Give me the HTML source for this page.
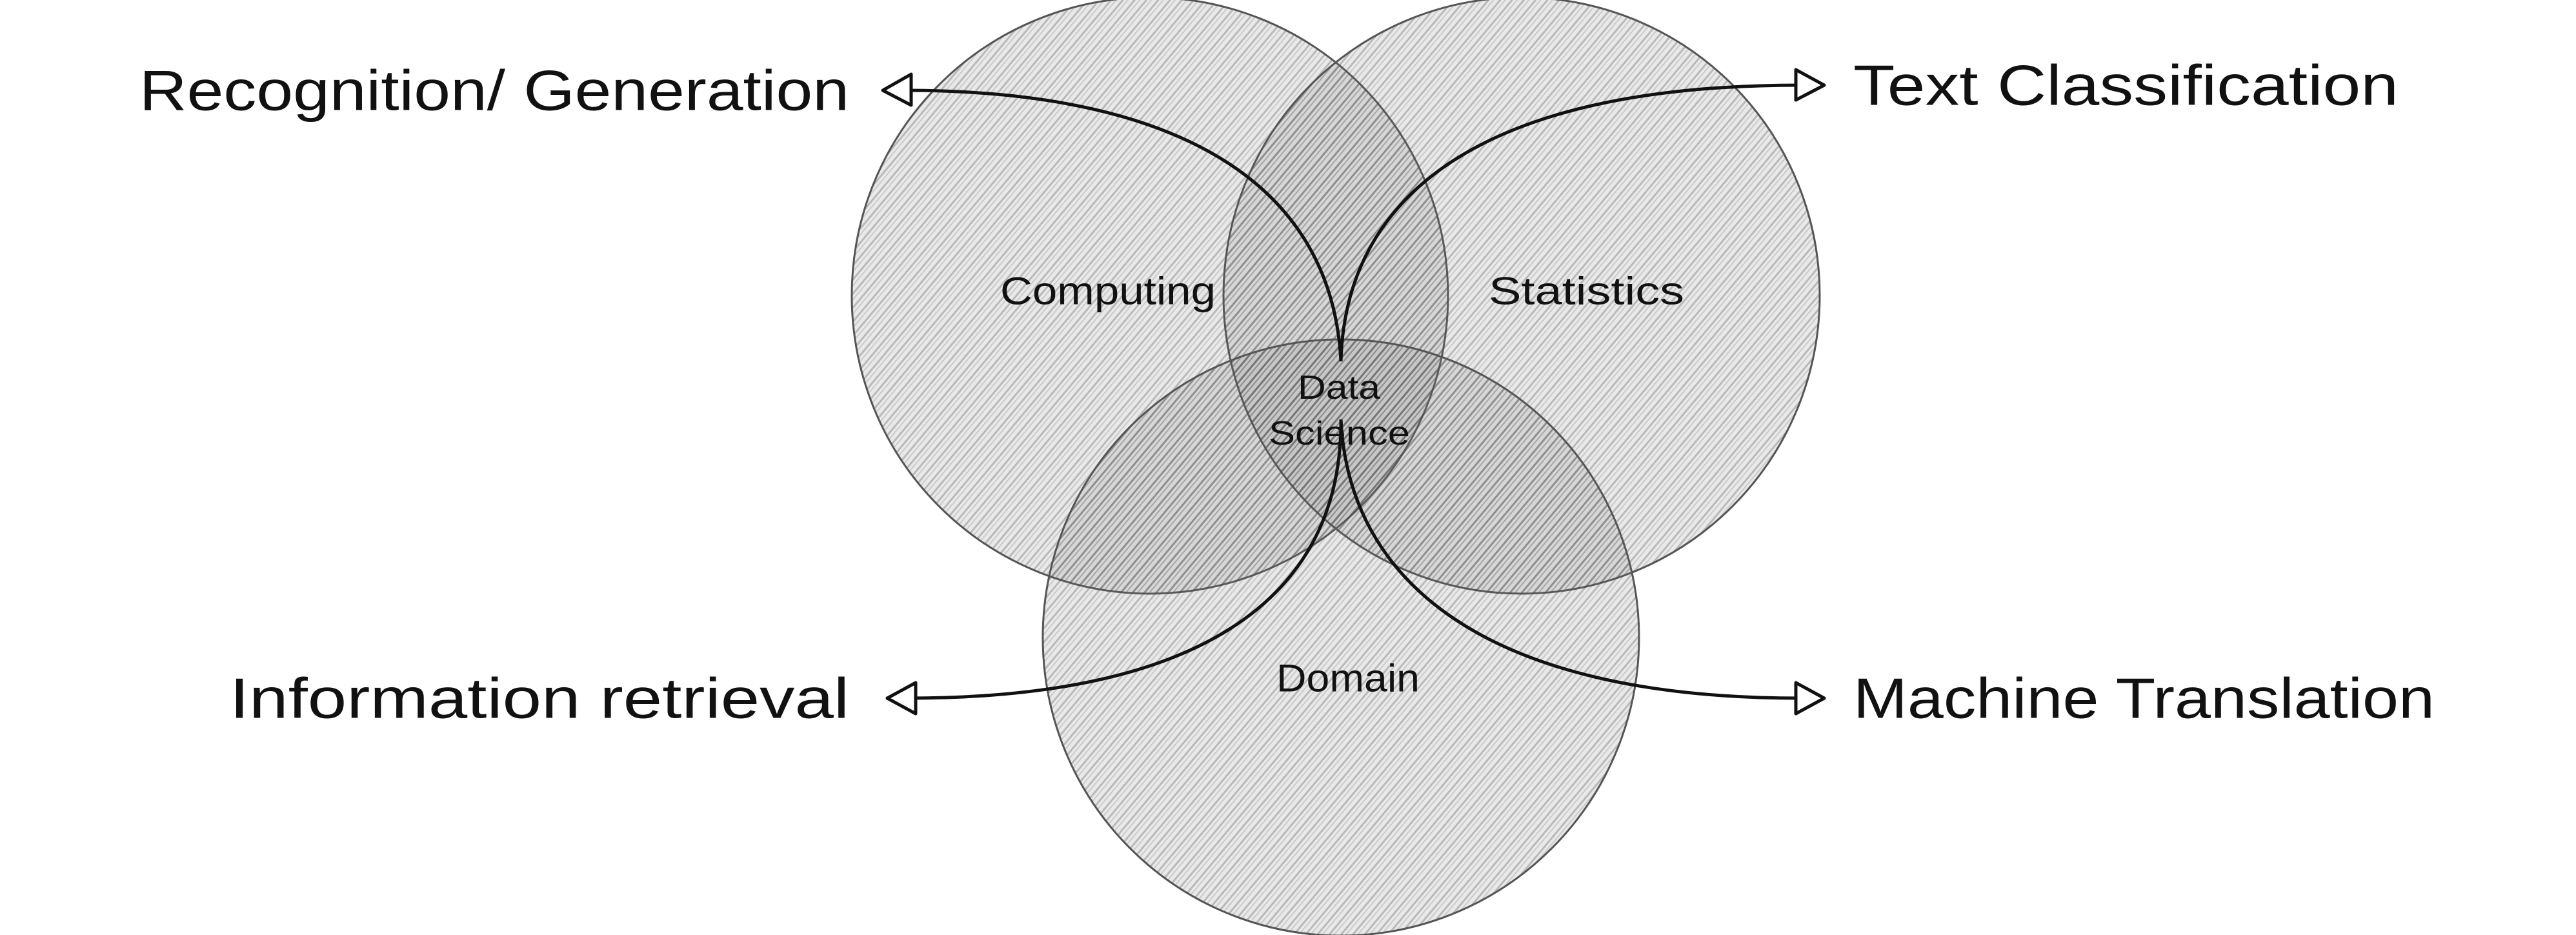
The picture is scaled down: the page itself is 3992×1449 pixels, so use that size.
<!DOCTYPE html>
<html><head><meta charset="utf-8"><style>
html,body{margin:0;padding:0;background:#fff;}
svg{display:block;}
text{font-family:"Liberation Sans",sans-serif;fill:#111;}
</style></head><body>
<svg width="3992" height="1449" viewBox="0 0 3992 1449" xmlns="http://www.w3.org/2000/svg">
<defs>
<pattern id="h" width="14" height="14" patternUnits="userSpaceOnUse" patternTransform="rotate(-50)">
<rect width="14" height="14" fill="rgba(120,120,120,0.16)"/>
<line x1="0" y1="3" x2="14" y2="3" stroke="rgba(60,60,60,0.28)" stroke-width="3"/>
<line x1="0" y1="9" x2="14" y2="9" stroke="rgba(60,60,60,0.18)" stroke-width="2"/>
</pattern>
</defs>
<g stroke="#555" stroke-width="3" fill="url(#h)">
<circle cx="1782" cy="458" r="462"/>
<circle cx="2358" cy="458" r="462"/>
<circle cx="2078" cy="988" r="462"/>
</g>
<g fill="none" stroke="#111" stroke-width="5">
<path d="M2078 560 C2065 300 1850 140 1400 140"/>
<path d="M2078 560 C2085 300 2300 132 2790 132"/>
<path d="M2078 650 C2080 900 1900 1082 1405 1082"/>
<path d="M2078 650 C2090 900 2300 1082 2790 1082"/>
</g>
<g fill="#fff" stroke="#111" stroke-width="5" stroke-linejoin="round">
<path d="M1412 115 L1368 140 L1412 163 Z"/>
<path d="M2783 108 L2827 132 L2783 155 Z"/>
<path d="M1419 1058 L1375 1082 L1419 1106 Z"/>
<path d="M2783 1058 L2827 1082 L2783 1106 Z"/>
</g>
<g dominant-baseline="central" font-size="88">
<text x="216" y="140" textLength="1100" lengthAdjust="spacingAndGlyphs">Recognition/ Generation</text>
<text x="2872" y="132" textLength="845" lengthAdjust="spacingAndGlyphs">Text Classification</text>
<text x="356" y="1082" textLength="960" lengthAdjust="spacingAndGlyphs">Information retrieval</text>
<text x="2872" y="1082" textLength="901" lengthAdjust="spacingAndGlyphs">Machine Translation</text>
</g>
<g dominant-baseline="central" font-size="60">
<text x="1550" y="451" textLength="334" lengthAdjust="spacingAndGlyphs">Computing</text>
<text x="2307" y="451" textLength="303" lengthAdjust="spacingAndGlyphs">Statistics</text>
<text x="1978" y="1051" textLength="222" lengthAdjust="spacingAndGlyphs">Domain</text>
</g>
<g dominant-baseline="central" font-size="52">
<text x="2011" y="601" textLength="128" lengthAdjust="spacingAndGlyphs">Data</text>
<text x="1966" y="672" textLength="219" lengthAdjust="spacingAndGlyphs">Science</text>
</g>
</svg>
</body></html>
